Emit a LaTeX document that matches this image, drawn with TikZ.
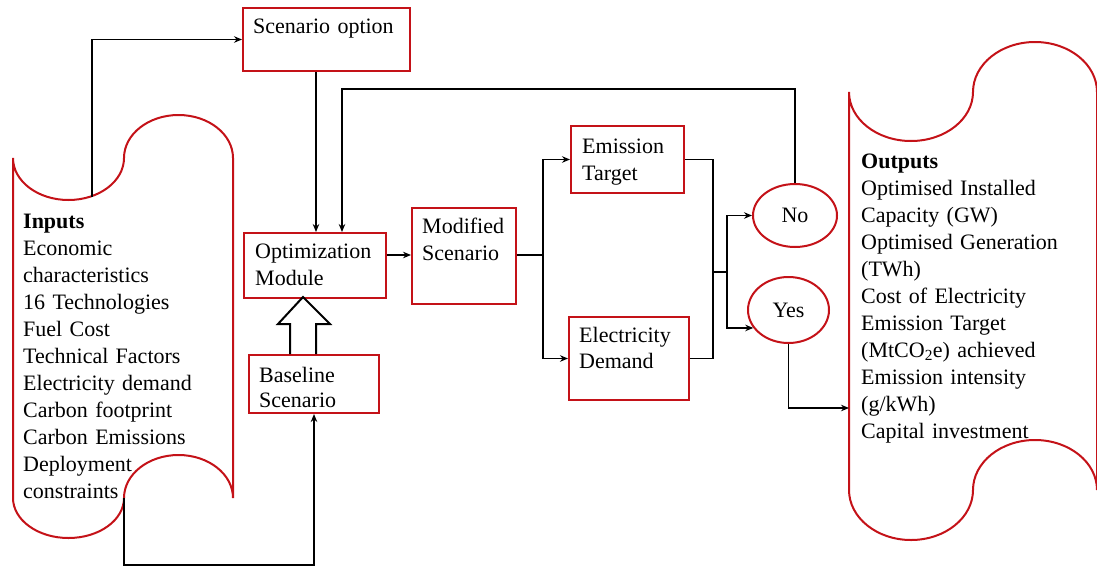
\documentclass[tikz,border=0pt]{standalone}
\usepackage{fontspec}
\setmainfont{Liberation Serif}
\usetikzlibrary{arrows.meta,calc,shapes.geometric}
\definecolor{boxred}{RGB}{196,18,24}

\begin{document}
\begin{tikzpicture}[x=1pt,y=-1pt,
  box/.style={draw=boxred,line width=2pt,inner sep=0pt,anchor=north west},
  oval/.style={draw=boxred,line width=2pt,ellipse,inner sep=0pt,
               font=\fontsize{22}{27}\selectfont},
  txt/.style={anchor=base west,inner sep=0pt,text width=230pt,align=left,
              font=\fontsize{22}{27}\selectfont},
  scroll/.style={draw=boxred,line width=2pt},
  conn/.style={line width=1.8pt,-{Stealth[length=8pt,width=6.5pt]}},
  line/.style={line width=1.8pt},
]
\useasboundingbox (0,0) rectangle (1097,568);

% ---- paper-tape shapes for inputs and outputs ----
\draw[scroll] (13,158) arc[start angle=180,end angle=0,x radius=55.5,y radius=42]
  arc[start angle=180,end angle=360,x radius=54.5,y radius=43]
  -- (233,498)
  arc[start angle=0,end angle=-180,x radius=54.5,y radius=43]
  arc[start angle=0,end angle=180,x radius=55.5,y radius=40]
  -- cycle;
\draw[scroll] (849,92) arc[start angle=180,end angle=0,x radius=62,y radius=49]
  arc[start angle=180,end angle=360,x radius=62,y radius=50]
  -- (1097,490)
  arc[start angle=0,end angle=-180,x radius=62,y radius=50]
  arc[start angle=0,end angle=180,x radius=62,y radius=50]
  -- cycle;

\node[txt] (inputs) at (23,228) {\textbf{Inputs}\\Economic\\characteristics\\16 Technologies\\Fuel Cost\\Technical Factors\\Electricity demand\\Carbon footprint\\Carbon Emissions\\Deployment\\constraints};
\node[txt] (outputs) at (861,168) {\textbf{Outputs}\\Optimised Installed\\Capacity (GW)\\Optimised Generation\\(TWh)\\Cost of Electricity\\Emission Target\\(MtCO\textsubscript{2}e) achieved\\Emission intensity\\(g/kWh)\\Capital investment};

\coordinate (inTop) at (92,197);
\coordinate (inBot) at (124,498);
\coordinate (outIn) at (849,408);

% ---- process boxes ----
\node[box,minimum width=167pt,minimum height=63pt] (scen) at (242,7) {};
\node[txt] (scenT) at (253,33) {Scenario option};
\node[box,minimum width=142pt,minimum height=65pt] (opt) at (243,232) {};
\node[txt] (optT) at (255,258) {Optimization\\Module};
\node[box,minimum width=104pt,minimum height=96pt] (mod) at (411,207) {};
\node[txt] (modT) at (422,233) {Modified\\Scenario};
\node[box,minimum width=130pt,minimum height=58pt] (base) at (248,354) {};
\node[txt,font=\fontsize{22}{25}\selectfont] (baseT) at (259,382) {Baseline\\Scenario};
\node[box,minimum width=113pt,minimum height=67pt] (em) at (570,125) {};
\node[txt] (emT) at (582,153) {Emission\\Target};
\node[box,minimum width=120pt,minimum height=83pt] (el) at (568,316) {};
\node[txt,font=\fontsize{22}{26}\selectfont] (elT) at (579,342) {Electricity\\Demand};

\node[oval,minimum width=84pt,minimum height=63pt] (no) at (795,215.5) {No};
\node[oval,minimum width=81pt,minimum height=66pt] (yes) at (788.5,310) {Yes};

% ---- connectors ----
\coordinate (sx) at (316,0);
\coordinate (fb) at (342,89);
\coordinate (sp) at (543,255);
\coordinate (mg) at (713,272);
\coordinate (sp2) at (727,272);
\coordinate (low) at (200,565);

\draw[conn] (inTop) |- (scen.west);
\draw[conn] (scen.south -| sx) -- (opt.north -| sx);
\draw[conn] (no.north) |- (fb) -- (opt.north -| fb);
\draw[conn] (opt.east |- sp) -- (mod.west |- sp);
\draw[line] (mod.east |- sp) -- (sp);
\draw[conn] (sp) |- (em.west);
\draw[conn] (sp) |- (el.west);
\draw[line] (em.east) -| (mg);
\draw[line] (el.east) -| (mg);
\draw[line] (mg) -- (sp2);
\draw[conn] (sp2) |- (no.west);
\draw[conn] (sp2) |- (yes.207);
\draw[conn] (yes.south) |- (outIn);
\draw[conn] (inBot) |- (low) -| (base.south);

% hollow block arrow from the baseline box up into the optimisation module
\draw[line width=2pt,line join=miter]
  (290,354) -- (290,324) -- (278,324) -- (303,297) -- (330,324) -- (316,324) -- (316,354);
\end{tikzpicture}
\end{document}
